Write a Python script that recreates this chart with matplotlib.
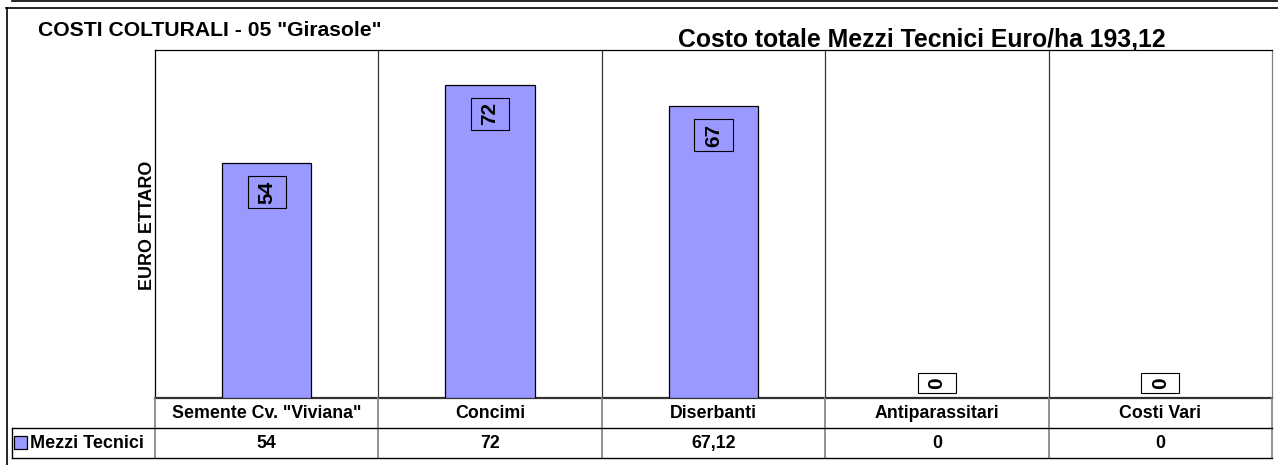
import matplotlib
matplotlib.use("Agg")
import matplotlib.pyplot as plt
from matplotlib.lines import Line2D
from matplotlib.patches import Rectangle
from matplotlib.path import Path
from matplotlib import transforms

plt.rcParams['font.family'] = ['Liberation Sans', 'DejaVu Sans']

# ---------------- data ----------------
categories = ['Semente Cv. "Viviana"', 'Concimi', 'Diserbanti', 'Antiparassitari', 'Costi Vari']
values = [54, 72, 67.12, 0, 0]
series_name = 'Mezzi Tecnici'
title_left = 'COSTI COLTURALI - 05 "Girasole"'
title_right = 'Costo totale Mezzi Tecnici Euro/ha 193,12'
y_label = 'EURO ETTARO'

BAR = '#9999FF'
W, H = 1278, 465


def fx(x):
    return x / W


def fy(y):
    return 1 - y / H


def fmt_it(v):
    s = f"{v:.2f}".rstrip('0').rstrip('.')
    return s.replace('.', ',')


def label_box(x0, y0, width, height, mutation_size):
    # pad along text direction small, across text larger (like Excel label boxes)
    a = 0.20 * mutation_size
    b = 0.46 * mutation_size
    return Path([(x0 - a, y0 - b), (x0 + width + a, y0 - b),
                 (x0 + width + a, y0 + height + b), (x0 - a, y0 + height + b),
                 (x0 - a, y0 - b)], closed=True)


fig = plt.figure(figsize=(W / 100, H / 100), dpi=100)

# plot area
ax = fig.add_axes([fx(155), fy(398), fx(1272 - 155), (398 - 50) / H])
x = list(range(len(categories)))
ax.bar(x, values, width=0.4, color=BAR, edgecolor='black', linewidth=0.9, zorder=3)
ax.set_xlim(-0.5, len(categories) - 0.5)
ax.set_ylim(0, 80)
ax.set_xticks([])
ax.set_yticks([])
for k in range(1, len(categories)):
    ax.axvline(k - 0.5, color='#333333', lw=0.9, zorder=1)
for s in ax.spines.values():
    s.set_linewidth(0.9)
ax.spines['bottom'].set_linewidth(1.6)
ax.spines['bottom'].set_color('#333333')
ax.spines['right'].set_color('#808080')

for xi, v in zip(x, values):
    off = -29 if v > 0 else 15
    ax.annotate(f"{v:.0f}", xy=(xi, v), xytext=(0, off), textcoords='offset pixels',
                rotation=90, ha='center', va='center', fontsize=15, fontweight='bold',
                bbox=dict(boxstyle=label_box, fc='none', ec='black', lw=0.8), zorder=4)

# titles and axis label
fig.text(fx(38), fy(31), title_left, fontsize=15.2, fontweight='bold', va='center', ha='left')
fig.text(fx(922), fy(40), title_right, fontsize=17.8, fontweight='bold', va='center', ha='center')
fig.text(fx(147), fy(225), y_label, fontsize=12.9, fontweight='bold', rotation=90,
         va='center', ha='center')

# data table below the plot
bt = transforms.blended_transform_factory(ax.transData, fig.transFigure)
for xi, cat, v in zip(x, categories, values):
    fig.text(xi, fy(413), cat, transform=bt, ha='center', va='center',
             fontsize=12.8, fontweight='bold')
    fig.text(xi, fy(443), fmt_it(v), transform=bt, ha='center', va='center',
             fontsize=12.8, fontweight='bold')

for k in range(len(categories) + 1):
    fig.add_artist(Line2D([k - 0.5, k - 0.5], [fy(398), fy(458)], transform=bt,
                          color='#808080', lw=1.2))
fig.add_artist(Line2D([fx(12), fx(1272)], [fy(428), fy(428)], color='black', lw=1.0))
fig.add_artist(Line2D([fx(12), fx(1272)], [fy(458), fy(458)], color='black', lw=1.0))
fig.add_artist(Line2D([fx(12), fx(12)], [fy(428), fy(458)], color='black', lw=1.0))
fig.add_artist(Rectangle((fx(14), fy(449)), fx(13), 13 / H, fc=BAR, ec='black', lw=0.9))
fig.text(fx(30), fy(443), series_name, fontsize=13, fontweight='bold', va='center', ha='left')

# outer frame
fig.add_artist(Line2D([fx(6.5), fx(6.5)], [fy(8), fy(465)], color='black', lw=1.2))
fig.add_artist(Line2D([fx(6), fx(1278)], [fy(8.5), fy(8.5)], color='black', lw=1.2))
fig.add_artist(Line2D([fx(12), fx(1278)], [fy(1), fy(1)], color='black', lw=1.2))

fig.savefig('out.png', dpi=100)
